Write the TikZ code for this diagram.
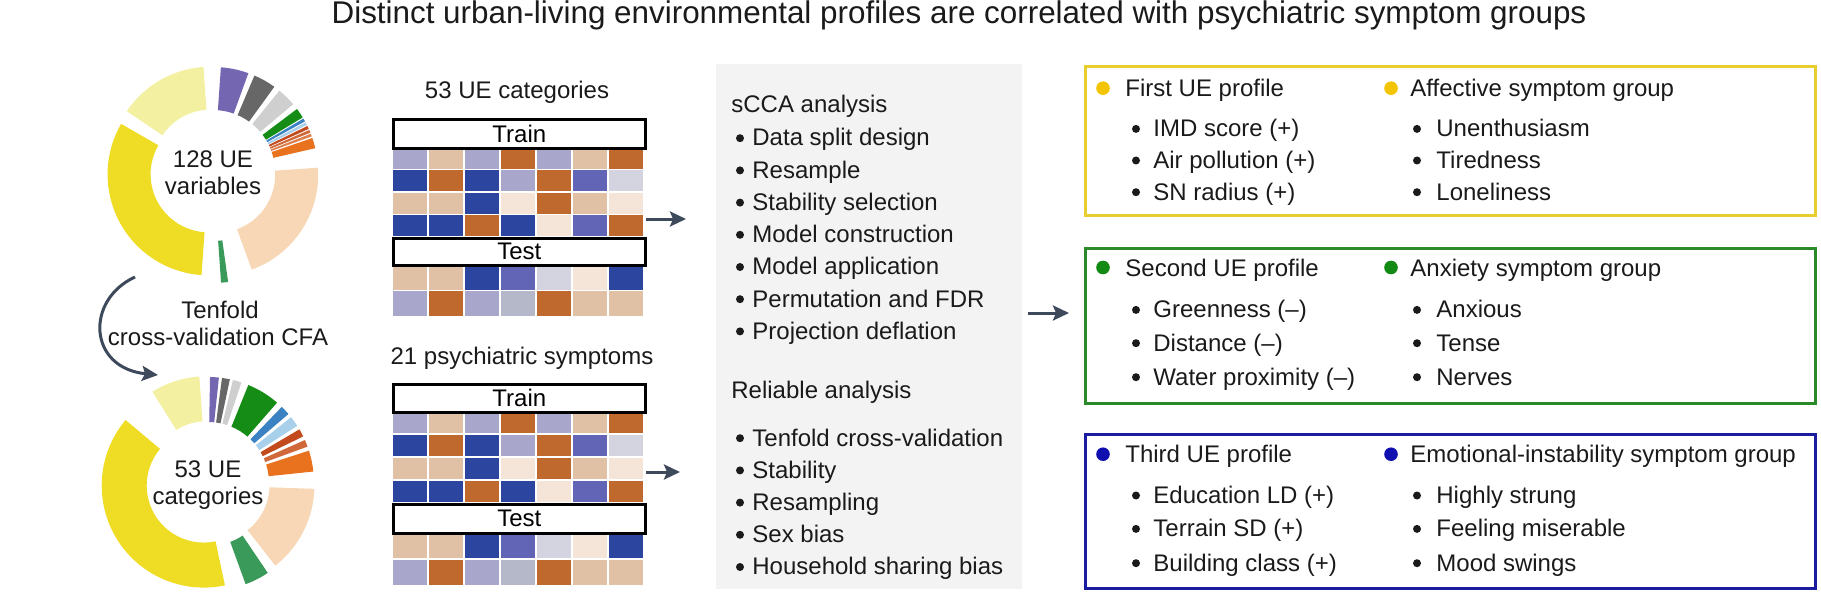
\documentclass[tikz,border=0pt]{standalone}
\usepackage{fontspec}
\setmainfont{Liberation Sans}
\usetikzlibrary{arrows.meta}
% donut colours
\definecolor{cLY}{HTML}{F3F1A1}
\definecolor{cYE}{HTML}{EFDC24}
\definecolor{cSG}{HTML}{3A9A5A}
\definecolor{cPE}{HTML}{F8D7B7}
\definecolor{cOR}{HTML}{E8721E}
\definecolor{cOL}{HTML}{DD8050}
\definecolor{cOB}{HTML}{D0683A}
\definecolor{cDR}{HTML}{C24A1C}
\definecolor{cLB}{HTML}{A9D0EA}
\definecolor{cBL}{HTML}{3A82C2}
\definecolor{cGR}{HTML}{158C15}
\definecolor{cLG}{HTML}{CFCFCF}
\definecolor{cDG}{HTML}{676767}
\definecolor{cPU}{HTML}{7566B1}
% heatmap colours
\definecolor{hL}{HTML}{A9A6CC}
\definecolor{hT}{HTML}{E1C1A5}
\definecolor{hB}{HTML}{C0692F}
\definecolor{hN}{HTML}{2C46A0}
\definecolor{hM}{HTML}{6265B6}
\definecolor{hG}{HTML}{D3D4E0}
\definecolor{hC}{HTML}{F4E5D8}
\definecolor{hS}{HTML}{B5B8C8}
% other
\definecolor{arrc}{HTML}{3E4A5C}
\definecolor{panelc}{HTML}{F3F3F3}
\definecolor{boxY}{HTML}{E8CD2E}
\definecolor{boxG}{HTML}{2A8A2A}
\definecolor{boxB}{HTML}{1C1CA0}
\definecolor{dotY}{HTML}{F2C500}
\definecolor{dotG}{HTML}{138A13}
\definecolor{dotB}{HTML}{1010B0}
\definecolor{txtc}{HTML}{1A1A1A}

% annular sector: a1, a2, rin, rout, offset, colour (math angles, inside flipped scope)
\newcommand\dseg[6]{%
  \fill[#6, shift={({(#1+#2)/2}:#5)}] (#1:#4) arc[start angle=#1, end angle=#2, radius=#4]
    -- (#2:#3) arc[start angle=#2, end angle=#1, radius=#3] -- cycle;}
% heatmap row: top y, height, colours
\newcommand\hrow[3]{%
  \foreach \cc [count=\ci from 0] in {#3}{%
    \fill[\cc, draw=white, line width=0.6pt] ({392+36*\ci},#1) rectangle ++(36,#2);}}
% bullet item: bullet x, text x, baseline, text, name
\newcommand\bitem[5]{%
  \fill[txtc] (#1,#3-7.8) circle (2pt);
  \node[lblw] (#5) at (#2,#3) {#4};}

\begin{document}
\begin{tikzpicture}[x=0.5pt,y=-0.5pt,
  lbl/.style={font=\fontsize{12pt}{14pt}\selectfont, text=txtc, inner sep=0pt, anchor=base},
  lblw/.style={lbl, anchor=base west},
  ttl/.style={font=\fontsize{15.7pt}{18pt}\selectfont, text=txtc, inner sep=0pt, anchor=base},
  arr/.style={draw=arrc, line width=1.5pt, -{Stealth[length=8pt, width=7.5pt, inset=1.5pt]}},
  tbox/.style={draw=black, fill=white, line width=1.3pt, inner sep=0pt, anchor=north west,
     font=\fontsize{12pt}{14pt}\selectfont, minimum width=126pt},
  resbox/.style={line width=1.5pt, inner sep=0pt, anchor=north west, minimum width=365pt}]
\useasboundingbox (0,0) rectangle (1821,610);

% ---------- title ----------
\node[ttl] (title) at (959,24) {Distinct urban-living environmental profiles are correlated with psychiatric symptom groups};

% ---------- donut 1 ----------
\begin{scope}[shift={(213,172)}, yscale=-1]
  \dseg{94}{146}{58}{101}{5}{cLY}
  \dseg{150}{266}{58}{101}{5}{cYE}
  \dseg{274}{278}{60}{102}{9}{cSG}
  \dseg{290}{364}{58}{101}{5}{cPE}
  \dseg{13}{19}{58}{101}{4}{cOR}
  \dseg{19.8}{21.4}{58}{101}{4}{cOL}
  \dseg{22}{23.6}{58}{101}{4}{cOB}
  \dseg{24.2}{26}{58}{101}{4}{cDR}
  \dseg{26.6}{28.2}{58}{101}{4}{cLB}
  \dseg{28.8}{30.6}{58}{101}{4}{cBL}
  \dseg{31.2}{37}{58}{101}{4}{cGR}
  \dseg{40}{51}{58}{101}{4}{cLG}
  \dseg{54}{67}{58}{101}{4}{cDG}
  \dseg{70}{86}{58}{101}{4}{cPU}
\end{scope}
\node[lbl] (d1a) at (213,167.3) {128 UE};
\node[lbl] (d1b) at (213,194) {variables};

% ---------- donut 2 ----------
\begin{scope}[shift={(208,483)}, yscale=-1]
  \dseg{94}{122}{57}{102}{5}{cLY}
  \dseg{140}{282}{57}{102}{5}{cYE}
  \dseg{290}{304}{57}{102}{6}{cSG}
  \dseg{308}{358}{57}{102}{5}{cPE}
  \dseg{6}{18}{57}{102}{4}{cOR}
  \dseg{20}{24}{57}{102}{4}{cOB}
  \dseg{26}{30.5}{57}{102}{4}{cDR}
  \dseg{32.5}{38.5}{57}{102}{4}{cLB}
  \dseg{40.5}{46}{57}{102}{4}{cBL}
  \dseg{49}{68}{57}{102}{4}{cGR}
  \dseg{71.5}{76.5}{57}{102}{4}{cLG}
  \dseg{78}{82.5}{57}{102}{4}{cDG}
  \dseg{84}{89}{57}{102}{4}{cPU}
\end{scope}
\node[lbl] (d2a) at (208,477.3) {53 UE};
\node[lbl] (d2b) at (208,504) {categories};

% ---------- CFA arrow ----------
\node[lbl] (cfa1) at (220,318.3) {Tenfold};
\node[lbl] (cfa2) at (218,345) {cross-validation CFA};
\coordinate (cvS) at (135,277);
\coordinate (cvE) at (158,375);
\draw[arr] (cvS) .. controls (85,300) and (88,368) .. (cvE);

% ---------- heatmap 1 ----------
\node[lbl] (hm1t) at (517,98.3) {53 UE categories};
\hrow{147}{22.5}{hL,hT,hL,hB,hL,hT,hB}
\hrow{169.5}{22.5}{hN,hB,hN,hL,hB,hM,hG}
\hrow{192}{22.5}{hT,hT,hN,hC,hB,hT,hC}
\hrow{214.5}{22.5}{hN,hN,hB,hN,hC,hM,hB}
\hrow{264}{26.5}{hT,hT,hN,hM,hG,hC,hN}
\hrow{290.5}{26.5}{hL,hB,hL,hS,hB,hT,hT}
\node[tbox, minimum height=14.5pt] (tr1) at (392,118) {Train};
\node[tbox, minimum height=13.5pt] (te1) at (392,237) {Test};
\coordinate (h1o) at (646,219);
\coordinate (h1i) at (686,219);
\draw[arr] (h1o) -- (h1i);

% ---------- heatmap 2 ----------
\node[lbl] (hm2t) at (522,364) {21 psychiatric symptoms};
\hrow{411}{23}{hL,hT,hL,hB,hL,hT,hB}
\hrow{434}{23}{hN,hB,hN,hL,hB,hM,hG}
\hrow{457}{23}{hT,hT,hN,hC,hB,hT,hC}
\hrow{480}{23}{hN,hN,hB,hN,hC,hM,hB}
\hrow{532}{27}{hT,hT,hN,hM,hG,hC,hN}
\hrow{559}{27}{hL,hB,hL,hS,hB,hT,hT}
\node[tbox, minimum height=14pt] (tr2) at (392,383) {Train};
\node[tbox, minimum height=14.5pt] (te2) at (392,503) {Test};
\coordinate (h2o) at (646,472);
\coordinate (h2i) at (680,472);
\draw[arr] (h2o) -- (h2i);

% ---------- analysis panel ----------
\node[fill=panelc, inner sep=0pt, minimum width=153pt, minimum height=262.5pt, anchor=north west] (pnl) at (716,64) {};
\node[lblw] (p0) at (731,112.5) {sCCA analysis};
\bitem{740}{752}{146}{Data split design}{p1}
\bitem{740}{752}{178.2}{Resample}{p2}
\bitem{740}{752}{210.4}{Stability selection}{p3}
\bitem{740}{752}{242.6}{Model construction}{p4}
\bitem{740}{752}{274.8}{Model application}{p5}
\bitem{740}{752}{307}{Permutation and FDR}{p6}
\bitem{740}{752}{339.2}{Projection deflation}{p7}
\node[lblw] (r0) at (731,398) {Reliable analysis};
\bitem{740}{752}{446}{Tenfold cross-validation}{r1}
\bitem{740}{752}{478.2}{Stability}{r2}
\bitem{740}{752}{510.4}{Resampling}{r3}
\bitem{740}{752}{542.6}{Sex bias}{r4}
\bitem{740}{752}{574.8}{Household sharing bias}{r5}

\coordinate (mo) at (1028,313);
\coordinate (mi) at (1069,313);
\draw[arr] (mo) -- (mi);

% ---------- result boxes ----------
\node[resbox, draw=boxY, minimum height=74.5pt] (bY) at (1084,65) {};
\node[resbox, draw=boxG, minimum height=77.5pt] (bG) at (1084,247) {};
\node[resbox, draw=boxB, minimum height=77pt] (bB) at (1084,433) {};

% yellow
\fill[dotY] (1103,88.2) circle (3.4pt);
\node[lblw] (y0) at (1125,96.7) {First UE profile};
\fill[dotY] (1391,88.2) circle (3.4pt);
\node[lblw] (y5) at (1410,96.7) {Affective symptom group};
\bitem{1136}{1153}{136.7}{IMD score (+)}{y1}
\bitem{1136}{1153}{168.3}{Air pollution (+)}{y2}
\bitem{1136}{1153}{200}{SN radius (+)}{y3}
\bitem{1417}{1436}{136.7}{Unenthusiasm}{y6}
\bitem{1417}{1436}{168.3}{Tiredness}{y7}
\bitem{1417}{1436}{200}{Loneliness}{y8}

% green
\fill[dotG] (1103,267.5) circle (3.4pt);
\node[lblw] (g0) at (1125,276) {Second UE profile};
\fill[dotG] (1391,267.5) circle (3.4pt);
\node[lblw] (g5) at (1410,276) {Anxiety symptom group};
\bitem{1136}{1153}{317.7}{Greenness (–)}{g1}
\bitem{1136}{1153}{351}{Distance (–)}{g2}
\bitem{1136}{1153}{385}{Water proximity (–)}{g3}
\bitem{1417}{1436}{317.7}{Anxious}{g6}
\bitem{1417}{1436}{351}{Tense}{g7}
\bitem{1417}{1436}{385}{Nerves}{g8}

% blue
\fill[dotB] (1103,454.2) circle (3.4pt);
\node[lblw] (u0) at (1125,462.7) {Third UE profile};
\fill[dotB] (1391,454.2) circle (3.4pt);
\node[lblw] (u5) at (1410,462.7) {Emotional-instability symptom group};
\bitem{1136}{1153}{503.3}{Education LD (+)}{u1}
\bitem{1136}{1153}{536.7}{Terrain SD (+)}{u2}
\bitem{1136}{1153}{571}{Building class (+)}{u3}
\bitem{1417}{1436}{503.3}{Highly strung}{u6}
\bitem{1417}{1436}{536.7}{Feeling miserable}{u7}
\bitem{1417}{1436}{571}{Mood swings}{u8}
\end{tikzpicture}
\end{document}
